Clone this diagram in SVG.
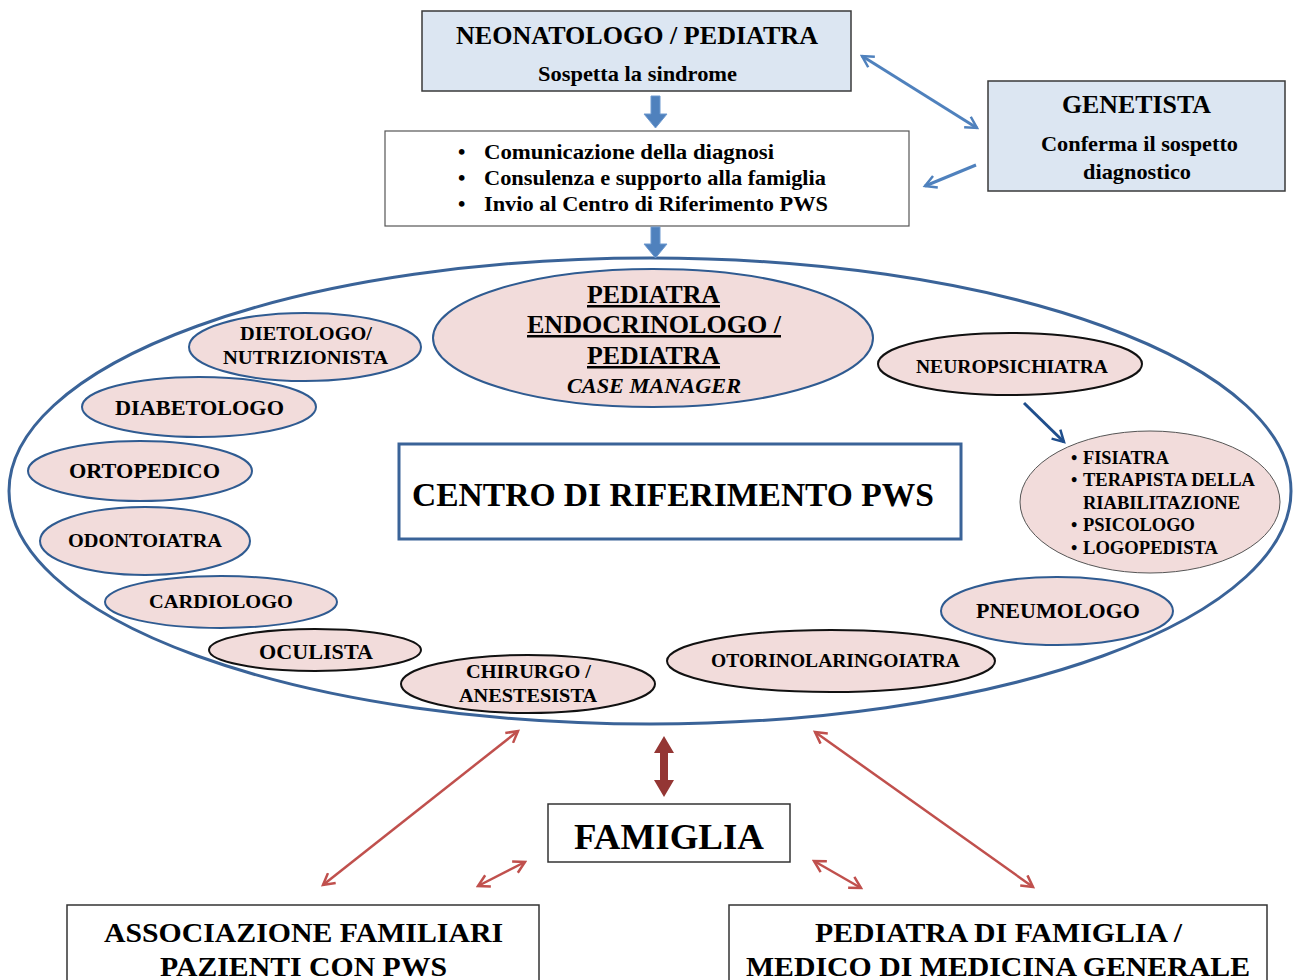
<svg xmlns="http://www.w3.org/2000/svg" width="1293" height="980" viewBox="0 0 1293 980">
<defs>
<style>
text{font-family:"Liberation Serif","Times New Roman",serif;font-weight:bold;fill:#000;text-anchor:middle}
.s{text-anchor:start}
.bluebox{fill:#dce6f2;stroke:#3a3a3a;stroke-width:1.5}
.wbox{fill:#fff;stroke:#555;stroke-width:1.2}
.pk{fill:#f2dcdb;stroke:#2f5b91;stroke-width:2}
.pkb{fill:#f2dcdb;stroke:#111;stroke-width:2}
.pkg{fill:#f2dcdb;stroke:#555;stroke-width:1}
.bl{stroke:#4f81bd;stroke-width:3;fill:none}
.rd{stroke:#c0504d;stroke-width:2.5;fill:none}
.dk{stroke:#1f4e8c;stroke-width:3;fill:none}
.t18{font-size:19px}
.t20{font-size:21px}
</style>
<marker id="ab" viewBox="0 0 12 12" refX="10" refY="6" markerWidth="5" markerHeight="5" orient="auto-start-reverse" markerUnits="strokeWidth"><path d="M1,1 L10,6 L1,11" fill="none" stroke="#4f81bd" stroke-width="2"/></marker>
<marker id="ar" viewBox="0 0 12 12" refX="10" refY="6" markerWidth="6" markerHeight="6" orient="auto-start-reverse" markerUnits="strokeWidth"><path d="M1,1 L10,6 L1,11" fill="none" stroke="#c0504d" stroke-width="2"/></marker>
<marker id="ad" viewBox="0 0 12 12" refX="10" refY="6" markerWidth="5" markerHeight="5" orient="auto-start-reverse" markerUnits="strokeWidth"><path d="M1,1 L10,6 L1,11" fill="none" stroke="#1f4e8c" stroke-width="2"/></marker>
</defs>
<rect width="1293" height="980" fill="#fff"/>

<g id="centro-ellipse"><ellipse cx="650" cy="491" rx="641" ry="233" fill="none" stroke="#3a6398" stroke-width="3"/></g>

<g id="neonatologo">
<rect class="bluebox" x="422" y="11" width="429" height="80"/>
<text x="637" y="44" font-size="26" textLength="362" lengthAdjust="spacingAndGlyphs">NEONATOLOGO / PEDIATRA</text>
<text x="637.5" y="81" class="t20" textLength="199" lengthAdjust="spacingAndGlyphs">Sospetta la sindrome</text>
</g>

<g id="comunicazione">
<rect class="wbox" x="385" y="131" width="524" height="95"/>
<g font-size="21">
<text x="458" y="159" class="s">•</text><text x="484" y="159" class="s" textLength="290" lengthAdjust="spacingAndGlyphs">Comunicazione  della diagnosi</text>
<text x="458" y="185" class="s">•</text><text x="484" y="185" class="s" textLength="342" lengthAdjust="spacingAndGlyphs">Consulenza e supporto alla famiglia</text>
<text x="458" y="211" class="s">•</text><text x="484" y="211" class="s" textLength="344" lengthAdjust="spacingAndGlyphs">Invio al Centro di Riferimento PWS</text>
</g>
</g>

<g id="genetista">
<rect class="bluebox" x="988" y="81" width="297" height="110"/>
<text x="1136.5" y="113" font-size="25" textLength="149" lengthAdjust="spacingAndGlyphs">GENETISTA</text>
<text x="1139.5" y="151" class="t20" textLength="197" lengthAdjust="spacingAndGlyphs">Conferma il sospetto</text>
<text x="1137" y="179" class="t20" textLength="108" lengthAdjust="spacingAndGlyphs">diagnostico</text>
</g>

<g id="centro-box">
<rect x="399" y="444" width="562" height="95" fill="#fff" stroke="#3a6398" stroke-width="3"/>
<text x="673" y="506" font-size="34" textLength="522" lengthAdjust="spacingAndGlyphs">CENTRO DI RIFERIMENTO PWS</text>
</g>

<g id="case-manager">
<ellipse class="pk" cx="653" cy="338" rx="220" ry="69"/>
<text x="653.5" y="303" font-size="25" text-decoration="underline" textLength="133" lengthAdjust="spacingAndGlyphs">PEDIATRA</text>
<text x="654" y="333" font-size="25" text-decoration="underline" textLength="254" lengthAdjust="spacingAndGlyphs">ENDOCRINOLOGO /</text>
<text x="653.5" y="364" font-size="25" text-decoration="underline" textLength="133" lengthAdjust="spacingAndGlyphs">PEDIATRA</text>
<text x="654" y="393" font-size="21" font-style="italic" textLength="174" lengthAdjust="spacingAndGlyphs">CASE MANAGER</text>
</g>

<g id="dietologo">
<ellipse class="pk" cx="305" cy="347" rx="116" ry="34"/>
<text x="306" y="340" class="t18" textLength="132" lengthAdjust="spacingAndGlyphs">DIETOLOGO/</text>
<text x="305.5" y="364" class="t18" textLength="165" lengthAdjust="spacingAndGlyphs">NUTRIZIONISTA</text>
</g>
<g id="diabetologo">
<ellipse class="pk" cx="199" cy="407" rx="117" ry="30"/>
<text x="199.5" y="415" class="t20" textLength="169" lengthAdjust="spacingAndGlyphs">DIABETOLOGO</text>
</g>
<g id="ortopedico">
<ellipse class="pk" cx="140" cy="471" rx="112" ry="30"/>
<text x="144.5" y="478" class="t20" textLength="151" lengthAdjust="spacingAndGlyphs">ORTOPEDICO</text>
</g>
<g id="odontoiatra">
<ellipse class="pk" cx="145" cy="541" rx="105" ry="34"/>
<text x="145" y="547" class="t18" textLength="154" lengthAdjust="spacingAndGlyphs">ODONTOIATRA</text>
</g>
<g id="cardiologo">
<ellipse class="pk" cx="221" cy="602" rx="116" ry="26"/>
<text x="221" y="608" class="t18" textLength="144" lengthAdjust="spacingAndGlyphs">CARDIOLOGO</text>
</g>
<g id="oculista">
<ellipse class="pkb" cx="315" cy="650" rx="106" ry="21"/>
<text x="316" y="659" class="t20" textLength="114" lengthAdjust="spacingAndGlyphs">OCULISTA</text>
</g>
<g id="chirurgo">
<ellipse class="pkb" cx="528" cy="684" rx="127" ry="29"/>
<text x="528.5" y="678" class="t18" textLength="125" lengthAdjust="spacingAndGlyphs">CHIRURGO /</text>
<text x="528" y="702" class="t18" textLength="138" lengthAdjust="spacingAndGlyphs">ANESTESISTA</text>
</g>
<g id="otorino">
<ellipse class="pkb" cx="831" cy="661" rx="164" ry="31"/>
<text x="835.5" y="667" class="t18" textLength="249" lengthAdjust="spacingAndGlyphs">OTORINOLARINGOIATRA</text>
</g>
<g id="neuropsichiatra">
<ellipse class="pkb" cx="1010" cy="364" rx="132" ry="31"/>
<text x="1012" y="373" class="t18" textLength="192" lengthAdjust="spacingAndGlyphs">NEUROPSICHIATRA</text>
</g>
<g id="riabilitazione">
<ellipse class="pkg" cx="1150" cy="502" rx="130" ry="71"/>
<g font-size="18">
<text x="1071" y="464" class="s">•</text><text x="1083" y="464" class="s" textLength="86" lengthAdjust="spacingAndGlyphs">FISIATRA</text>
<text x="1071" y="486" class="s">•</text><text x="1083" y="486" class="s" textLength="172" lengthAdjust="spacingAndGlyphs">TERAPISTA DELLA</text>
<text x="1083" y="509" class="s" textLength="157" lengthAdjust="spacingAndGlyphs">RIABILITAZIONE</text>
<text x="1071" y="531" class="s">•</text><text x="1083" y="531" class="s" textLength="112" lengthAdjust="spacingAndGlyphs">PSICOLOGO</text>
<text x="1071" y="554" class="s">•</text><text x="1083" y="554" class="s" textLength="135" lengthAdjust="spacingAndGlyphs">LOGOPEDISTA</text>
</g>
</g>
<g id="pneumologo">
<ellipse class="pk" cx="1057" cy="611" rx="116" ry="34"/>
<text x="1058" y="618" class="t20" textLength="164" lengthAdjust="spacingAndGlyphs">PNEUMOLOGO</text>
</g>

<g id="famiglia">
<rect x="548" y="804" width="242" height="58" fill="#fff" stroke="#333" stroke-width="1.5"/>
<text x="669" y="849" font-size="36" textLength="190" lengthAdjust="spacingAndGlyphs">FAMIGLIA</text>
</g>
<g id="associazione">
<rect x="67" y="905" width="472" height="90" fill="#fff" stroke="#333" stroke-width="1.5"/>
<text x="303.5" y="942" font-size="28" textLength="399" lengthAdjust="spacingAndGlyphs">ASSOCIAZIONE FAMILIARI</text>
<text x="303.5" y="976" font-size="28" textLength="287" lengthAdjust="spacingAndGlyphs">PAZIENTI CON PWS</text>
</g>
<g id="pediatra-famiglia">
<rect x="729" y="905" width="538" height="90" fill="#fff" stroke="#333" stroke-width="1.5"/>
<text x="998.5" y="942" font-size="28" textLength="367" lengthAdjust="spacingAndGlyphs">PEDIATRA DI FAMIGLIA /</text>
<text x="998" y="976" font-size="28" textLength="504" lengthAdjust="spacingAndGlyphs">MEDICO DI MEDICINA GENERALE</text>
</g>

<g id="connectors">
<path d="M651,96 h9 v18 h7 l-11.5,14 l-11.5,-14 h7 z" fill="#4f81bd" stroke="#6f9ad0" stroke-width="1"/>
<path d="M651,227 h9 v17 h7 l-11.5,14 l-11.5,-14 h7 z" fill="#4f81bd" stroke="#6f9ad0" stroke-width="1"/>
<line class="bl" x1="862" y1="56" x2="977" y2="128" marker-start="url(#ab)" marker-end="url(#ab)"/>
<line class="bl" x1="976" y1="165" x2="925" y2="186" marker-end="url(#ab)"/>
<line class="dk" x1="1024" y1="403" x2="1064" y2="442" marker-end="url(#ad)"/>
<line class="rd" x1="323" y1="885" x2="518" y2="731" marker-start="url(#ar)" marker-end="url(#ar)"/>
<line class="rd" x1="478" y1="886" x2="525" y2="862" marker-start="url(#ar)" marker-end="url(#ar)"/>
<line class="rd" x1="814" y1="861" x2="861" y2="888" marker-start="url(#ar)" marker-end="url(#ar)"/>
<line class="rd" x1="815" y1="732" x2="1033" y2="887" marker-start="url(#ar)" marker-end="url(#ar)"/>
<path d="M664,736 l10,17 h-6 v27 h6 l-10,17 l-10,-17 h6 v-27 h-6 z" fill="#943634"/>
</g>
</svg>
